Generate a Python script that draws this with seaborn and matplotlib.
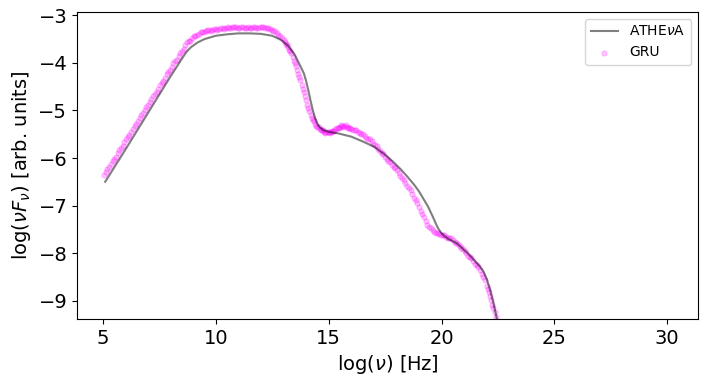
import matplotlib
matplotlib.use("Agg")
import matplotlib.pyplot as plt
import seaborn as sns

# === datos ===

# curva del modelo ATHEvA
athena_x = [5.1, 6.0, 7.0, 8.0, 8.3, 8.5, 8.7, 8.9, 9.2, 9.5, 10.0, 10.5, 11.0,
            11.5, 12.0, 12.5, 12.9, 13.2, 13.5, 13.8, 13.9, 14.0, 14.1, 14.2,
            14.3, 14.4, 14.5, 14.6, 14.75, 15.0, 15.4, 16.0, 16.5, 17.0, 17.5,
            17.9, 18.2, 18.5, 18.8, 19.0, 19.2, 19.4, 19.6, 19.75, 19.85, 19.95,
            20.1, 20.3, 20.7, 21.2, 21.7, 21.85, 22.0, 22.15, 22.3, 22.45, 22.6]
athena_y = [-6.50, -5.82, -5.05, -4.28, -4.06, -3.91, -3.77, -3.67, -3.57, -3.50,
            -3.43, -3.40, -3.38, -3.38, -3.39, -3.43, -3.52, -3.64, -3.83, -4.12,
            -4.22, -4.38, -4.58, -4.80, -5.00, -5.16, -5.28, -5.35, -5.41, -5.45,
            -5.48, -5.55, -5.65, -5.76, -5.93, -6.10, -6.24, -6.40, -6.57, -6.70,
            -6.86, -7.02, -7.22, -7.38, -7.48, -7.55, -7.63, -7.70, -7.80, -8.02,
            -8.28, -8.38, -8.54, -8.77, -9.05, -9.38, -9.75]

# predicción de la red GRU
gru_x = [5.05, 5.2, 5.35, 5.5, 5.65, 5.8, 5.95, 6.1, 6.25, 6.4, 6.55, 6.7, 6.85,
         7.0, 7.15, 7.3, 7.45, 7.6, 7.75, 7.9, 8.05, 8.2, 8.35, 8.5, 8.65, 8.8,
         8.95, 9.1, 9.25, 9.4, 9.55, 9.7, 9.85, 10.0, 10.15, 10.3, 10.45, 10.6,
         10.75, 10.9, 11.05, 11.2, 11.35, 11.5, 11.65, 11.8, 11.95, 12.1, 12.25,
         12.4, 12.55, 12.7, 12.85, 13.0, 13.1, 13.2, 13.3, 13.4, 13.5, 13.6, 13.7,
         13.8, 13.9, 14.0, 14.1, 14.2, 14.3, 14.4, 14.5, 14.6, 14.7, 14.8, 14.9,
         15.0, 15.1, 15.2, 15.3, 15.4, 15.5, 15.6, 15.7, 15.8, 15.9, 16.0, 16.15,
         16.3, 16.45, 16.6, 16.75, 16.9, 17.05, 17.2, 17.35, 17.5, 17.65, 17.8,
         17.95, 18.1, 18.25, 18.4, 18.55, 18.7, 18.85, 19.0, 19.15, 19.3, 19.45,
         19.6, 19.75, 19.9, 20.05, 20.2, 20.35, 20.5, 20.65, 20.8, 20.95, 21.1,
         21.25, 21.4, 21.55, 21.7, 21.85, 22.0, 22.1, 22.2, 22.3, 22.4, 22.5,
         5.125, 5.275, 5.425, 5.575, 5.725, 5.875, 6.025, 6.175, 6.325, 6.475,
         6.625, 6.775, 6.925, 7.075, 7.225, 7.375, 7.525, 7.675, 7.825, 7.975,
         8.125, 8.275, 8.425, 8.575, 8.725, 8.875, 9.025, 9.175, 9.325, 9.475,
         9.625, 9.775, 9.925, 10.075, 10.225, 10.375, 10.525, 10.675, 10.825,
         10.975, 11.125, 11.275, 11.425, 11.575, 11.725, 11.875, 12.025, 12.175,
         12.325, 12.475, 12.625, 12.775, 12.925, 13.05, 13.15, 13.25, 13.35,
         13.45, 13.55, 13.65, 13.75, 13.85, 13.95, 14.05, 14.15, 14.25, 14.35,
         14.45, 14.55, 14.65, 14.75, 14.85, 14.95, 15.05, 15.15, 15.25, 15.35,
         15.45, 15.55, 15.65, 15.75, 15.85, 15.95, 16.075, 16.225, 16.375,
         16.525, 16.675, 16.825, 16.975, 17.125, 17.275, 17.425, 17.575, 17.725,
         17.875, 18.025, 18.175, 18.325, 18.475, 18.625, 18.775, 18.925, 19.075,
         19.225, 19.375, 19.525, 19.675, 19.825, 19.975, 20.125, 20.275, 20.425,
         20.575, 20.725, 20.875, 21.025, 21.175, 21.325, 21.475, 21.625, 21.775,
         21.925, 22.05, 22.15, 22.25, 22.35, 22.45]
gru_y = [-6.36, -6.24, -6.13, -6.02, -5.90, -5.79, -5.67, -5.56, -5.45, -5.33,
         -5.22, -5.10, -4.99, -4.88, -4.76, -4.65, -4.54, -4.42, -4.31, -4.20,
         -4.08, -3.97, -3.86, -3.74, -3.63, -3.55, -3.48, -3.43, -3.39, -3.36,
         -3.33, -3.31, -3.30, -3.29, -3.28, -3.27, -3.26, -3.26, -3.25, -3.25,
         -3.26, -3.25, -3.26, -3.26, -3.25, -3.26, -3.25, -3.25, -3.26, -3.28,
         -3.32, -3.38, -3.44, -3.52, -3.60, -3.67, -3.76, -3.88, -4.01, -4.15,
         -4.30, -4.46, -4.62, -4.78, -4.95, -5.10, -5.20, -5.28, -5.34, -5.39,
         -5.42, -5.45, -5.46, -5.46, -5.45, -5.43, -5.40, -5.37, -5.34, -5.32,
         -5.32, -5.34, -5.36, -5.38, -5.41, -5.45, -5.49, -5.54, -5.59, -5.65,
         -5.72, -5.80, -5.89, -5.98, -6.06, -6.14, -6.22, -6.32, -6.42, -6.52,
         -6.63, -6.75, -6.89, -7.03, -7.18, -7.33, -7.45, -7.52, -7.57, -7.60,
         -7.62, -7.65, -7.68, -7.72, -7.78, -7.85, -7.92, -8.00, -8.08, -8.16,
         -8.25, -8.35, -8.50, -8.68, -8.82, -8.98, -9.15, -9.35, -9.55,
         -6.29, -6.19, -6.06, -5.97, -5.83, -5.74, -5.60, -5.51, -5.38, -5.29,
         -5.15, -5.06, -4.92, -4.83, -4.69, -4.61, -4.47, -4.38, -4.24, -4.15,
         -4.01, -3.93, -3.79, -3.70, -3.57, -3.53, -3.44, -3.42, -3.36, -3.36,
         -3.31, -3.32, -3.28, -3.30, -3.26, -3.28, -3.24, -3.27, -3.24,
         -3.27, -3.24, -3.27, -3.24, -3.27, -3.24, -3.27, -3.24, -3.27,
         -3.26, -3.31, -3.34, -3.42, -3.47, -3.57, -3.62, -3.73, -3.80,
         -3.96, -4.07, -4.24, -4.37, -4.55, -4.69, -4.88, -5.01, -5.16, -5.23,
         -5.32, -5.35, -5.42, -5.42, -5.47, -5.45, -5.47, -5.43, -5.43, -5.37,
         -5.37, -5.31, -5.34, -5.31, -5.36, -5.36, -5.41, -5.42, -5.48,
         -5.50, -5.58, -5.61, -5.70, -5.75, -5.86, -5.92, -6.03, -6.09,
         -6.19, -6.26, -6.38, -6.46, -6.59, -6.68, -6.83, -6.95, -7.12,
         -7.24, -7.41, -7.47, -7.56, -7.57, -7.62, -7.62, -7.68, -7.69,
         -7.76, -7.80, -7.90, -7.95, -8.05, -8.11, -8.22, -8.28, -8.44,
         -8.57, -8.76, -8.89, -9.08, -9.24, -9.46]

# === figura ===

fig, ax = plt.subplots(figsize=(7.06, 3.86), dpi=100)
fig.subplots_adjust(left=0.109, right=0.989, top=0.969, bottom=0.174)

sns.lineplot(x=athena_x, y=athena_y, color="k", alpha=0.5, linewidth=1.5,
             label="ATHE$\\nu$A", ax=ax, sort=False)
sns.scatterplot(x=gru_x, y=gru_y, color="magenta", alpha=0.22, s=14,
                edgecolor="magenta", linewidth=0.8, label="GRU", ax=ax)

ax.set_xlim(3.85, 31.37)
ax.set_ylim(-9.38, -2.93)
ax.set_xticks([5, 10, 15, 20, 25, 30])
ax.set_yticks([-9, -8, -7, -6, -5, -4, -3])
ax.tick_params(labelsize=14)
ax.set_xlabel("log($\\nu$) [Hz]", fontsize=14)
ax.set_ylabel("log($\\nu F_{\\nu}$) [arb. units]", fontsize=14)
ax.legend(loc="upper right", fontsize=10)

plt.savefig("out.png")
plt.close()
